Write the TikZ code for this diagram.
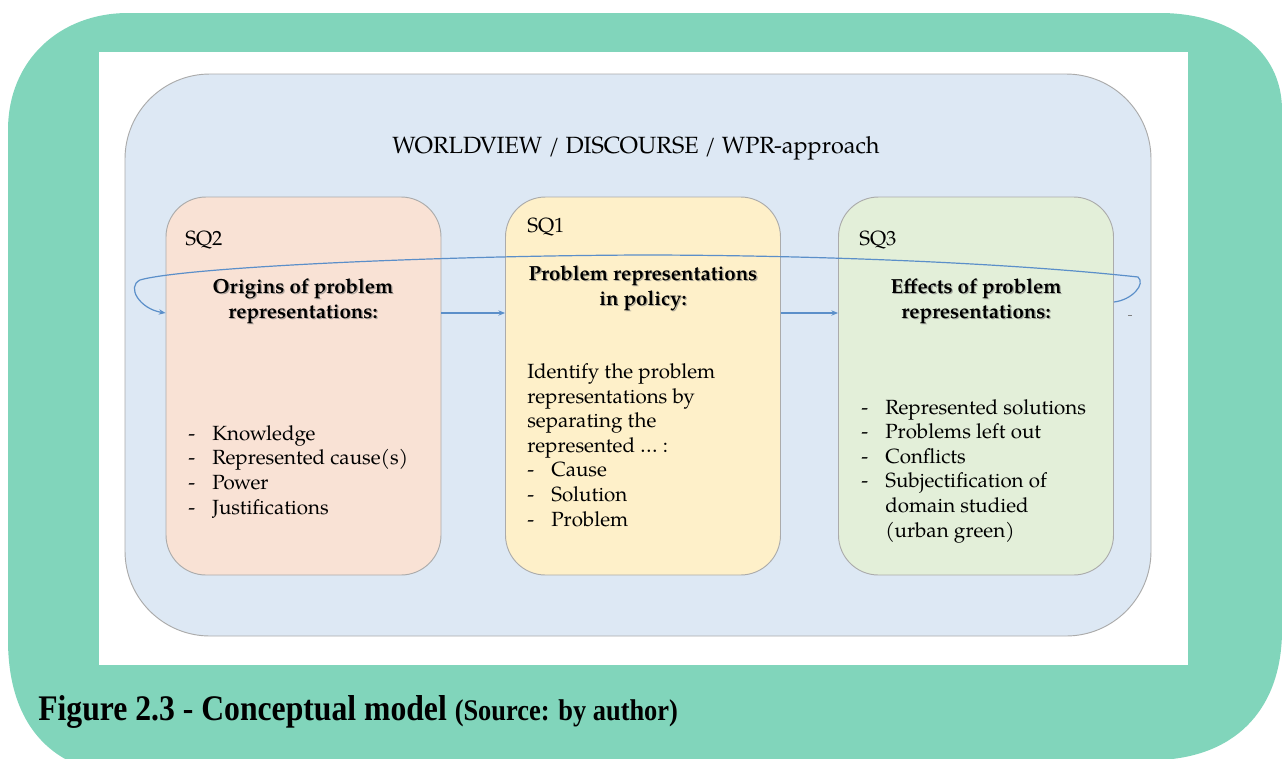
\documentclass[tikz,border=0pt]{standalone}
\usepackage{fontspec}
\usetikzlibrary{arrows.meta}
\newfontfamily\capfont{Liberation Serif}
\newfontfamily\palfont{TeX Gyre Pagella}

\definecolor{frame}{HTML}{81D5BB}
\definecolor{outerfill}{HTML}{DDE8F4}
\definecolor{boxline}{HTML}{ABABAB}
\definecolor{peach}{HTML}{F9E2D5}
\definecolor{sand}{HTML}{FEF0C9}
\definecolor{sage}{HTML}{E3EFD9}
\definecolor{arrowblue}{HTML}{5B8FC9}

\tikzset{
  box/.style={draw=boxline, line width=0.7pt, rounded corners=30pt,
    minimum width=206.25pt, minimum height=283.5pt, inner sep=0pt},
  body/.style={font=\palfont\fontsize{15.4}{18.4}\selectfont, align=left,
    anchor=base west, inner sep=0pt},
  head/.style={font=\palfont\bfseries\fontsize{15.3}{18.6}\selectfont,
    align=center, anchor=base, inner sep=0pt},
  headshadow/.style={head, text=black!55, opacity=0.55},
  flow/.style={draw=arrowblue, line width=0.9pt,
    -{Stealth[length=5pt,width=4pt]}}
}
\newcommand\itm[1]{\makebox[18pt][l]{-}#1}

\begin{document}
\begin{tikzpicture}[x=0.75pt,y=-0.75pt]
\useasboundingbox (0,0) rectangle (1282,758);
\clip (0,0) rectangle (1282,758);

% green frame
\fill[frame] (8,130) .. controls (8,60) and (60,13) .. (128,13)
  -- (1160,13) .. controls (1230,13) and (1282,50) .. (1282,110)
  -- (1282,630) .. controls (1282,705) and (1240,756) .. (1160,760)
  -- (67,760) .. controls (30,740) and (8,700) .. (8,640) -- cycle;

% white sheet
\fill[white] (99,52) rectangle (1188,665);

% outer rounded field
\node[draw=boxline, line width=0.7pt, fill=outerfill, rounded corners=63.75pt,
  minimum width=769.5pt, minimum height=421.5pt, inner sep=0pt]
  (field) at (638,355) {};
\node[font=\palfont\fontsize{17.6}{20}\selectfont, anchor=base, inner sep=0pt]
  (title) at (636,153) {WORLDVIEW / DISCOURSE / WPR-approach};

% the three sub-question boxes
\node[box, fill=peach] (sq2) at (303.5,386) {};
\node[box, fill=sand]  (sq1) at (643,386) {};
\node[box, fill=sage]  (sq3) at (976,386) {};

% labels
\node[body] (l2) at (185,245) {SQ2};
\node[body] (l1) at (527,232) {SQ1};
\node[body] (l3) at (859,245) {SQ3};

% headings with a soft shadow (anchored on their last line)
\node[headshadow] (h2s) at (304.3,319) {Origins of problem\\representations:};
\node[head] (h2) at (303,318) {Origins of problem\\representations:};
\node[headshadow] (h1s) at (644.3,306) {Problem representations\\in policy:};
\node[head] (h1) at (643,305) {Problem representations\\in policy:};
\node[headshadow] (h3s) at (977.3,319) {Effects of problem\\representations:};
\node[head] (h3) at (976,318) {Effects of problem\\representations:};

% body texts (anchored on their last line)
\node[body] (t2) at (188,514) {\itm{Knowledge}\\\itm{Represented cause(s)}\\\itm{Power}\\\itm{Justifications}};
\node[body] (t1) at (527,526) {Identify the problem\\representations by\\separating the\\represented … :\\\itm{Cause}\\\itm{Solution}\\\itm{Problem}};
\node[body] (t3) at (861,537) {\itm{Represented solutions}\\\itm{Problems left out}\\\itm{Conflicts}\\\itm{Subjectification of}\\\hspace*{18pt}domain studied\\\hspace*{18pt}(urban green)};

% connectors
\draw[flow] ([yshift=54.75pt]sq2.east) -- ([yshift=54.75pt]sq1.west);
\draw[flow] ([yshift=54.75pt]sq1.east) -- ([yshift=54.75pt]sq3.west);
\draw[flow] ([yshift=63pt]sq3.east) .. controls (1132,300) and (1146,284) .. (1138,277)
  .. controls (1000,262) and (800,255) .. (640,255)
  .. controls (420,256) and (180,268) .. (140,280)
  .. controls (126,287) and (140,309) .. ([yshift=54.75pt]sq2.west);
\draw[black!50, line width=0.6pt] (1128,315) -- (1132,315);

% caption
\node[anchor=base west, inner sep=0pt] (cap) at (38,720)
  {\scalebox{0.88}[1]{\capfont\bfseries\fontsize{27}{30}\selectfont Figure 2.3 - Conceptual model
   {\fontsize{22.5}{26}\selectfont (Source: by author)}}};
\end{tikzpicture}
\end{document}
